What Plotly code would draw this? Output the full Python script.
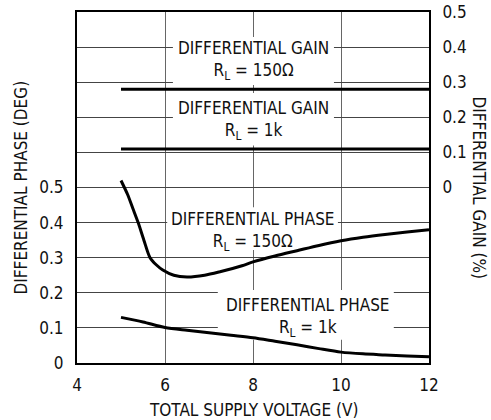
import plotly.graph_objects as go

# ---- data ----
supply_v_phase150 = [5.0, 5.15, 5.27, 5.39, 5.52, 5.66, 5.8, 5.95, 6.2, 6.5, 6.9, 7.25, 7.75, 8.0, 8.5, 9.0, 9.5, 10.0, 10.5, 11.0, 11.5, 12.0]
phase_150 = [0.52, 0.48, 0.44, 0.40, 0.35, 0.30, 0.28, 0.265, 0.25, 0.245, 0.25, 0.26, 0.277, 0.288, 0.305, 0.32, 0.335, 0.348, 0.358, 0.366, 0.373, 0.38]

supply_v_phase1k = [5.0, 5.5, 6.0, 6.5, 7.0, 7.5, 8.0, 8.5, 9.0, 9.5, 10.0, 10.5, 11.0, 11.5, 12.0]
phase_1k = [0.13, 0.117, 0.101, 0.093, 0.086, 0.079, 0.072, 0.062, 0.052, 0.041, 0.031, 0.026, 0.023, 0.02, 0.018]

supply_v_gain = [5.0, 12.0]
gain_150 = [0.28, 0.28]
gain_1k = [0.11, 0.11]

x_ticks = [4, 6, 8, 10, 12]
left_ticks = [0, 0.1, 0.2, 0.3, 0.4, 0.5, 0.6, 0.7, 0.8, 0.9, 1.0]
left_labels = ["0", "0.1", "0.2", "0.3", "0.4", "0.5", " ", " ", " ", " ", " "]
right_ticks = [0, 0.1, 0.2, 0.3, 0.4, 0.5]
right_labels = ["0", "0.1", "0.2", "0.3", "0.4", "0.5"]

FONT = "Liberation Sans Narrow, Arial Narrow, DejaVu Sans Condensed, sans-serif"
FS = 17

fig = go.Figure()
line_style = dict(color="black", width=3)
fig.add_trace(go.Scatter(x=supply_v_phase150, y=phase_150, mode="lines",
                         line=dict(color="black", width=3, shape="spline", smoothing=0.8)))
fig.add_trace(go.Scatter(x=supply_v_phase1k, y=phase_1k, mode="lines",
                         line=dict(color="black", width=3, shape="spline", smoothing=0.8)))
fig.add_trace(go.Scatter(x=supply_v_gain, y=gain_150, mode="lines", line=line_style, yaxis="y2"))
fig.add_trace(go.Scatter(x=supply_v_gain, y=gain_1k, mode="lines", line=line_style, yaxis="y2"))

# white label boxes breaking the grid (between grid and traces)
boxes = [
    (6.18, 9.84, 0.792, 0.929),
    (6.18, 9.84, 0.620, 0.769),
    (6.05, 9.93, 0.322, 0.444),
    (7.20, 11.2, 0.066, 0.208),
]
for x0, x1, y0, y1 in boxes:
    fig.add_shape(type="rect", xref="x", yref="y", x0=x0, x1=x1, y0=y0, y1=y1,
                  fillcolor="white", line=dict(width=0), layer="between")

labels = [
    (8.0, 0.862, "DIFFERENTIAL GAIN<br>R<sub>L</sub> = 150Ω"),
    (8.0, 0.690, "DIFFERENTIAL GAIN<br>R<sub>L</sub> = 1k"),
    (8.0, 0.375, "DIFFERENTIAL PHASE<br>R<sub>L</sub> = 150Ω"),
    (9.24, 0.13, "DIFFERENTIAL PHASE<br>R<sub>L</sub> = 1k"),
]
for x, y, t in labels:
    fig.add_annotation(x=x, y=y, xref="x", yref="y", text=t, showarrow=False,
                       font=dict(family=FONT, size=FS, color="#111"), align="center")

fig.add_annotation(x=0, y=0.5, xref="paper", yref="paper", xshift=-57, xanchor="center", yanchor="middle",
                   text="DIFFERENTIAL PHASE (DEG)", textangle=-90, showarrow=False,
                   font=dict(family=FONT, size=FS, color="#111"))
fig.add_annotation(x=1.0, y=0.5, xref="paper", yref="paper", xshift=50, xanchor="center", yanchor="middle",
                   text="DIFFERENTIAL GAIN (%)", textangle=90, showarrow=False,
                   font=dict(family=FONT, size=FS, color="#111"))
fig.add_annotation(x=0.5, y=0, xref="paper", yref="paper", yshift=-47, xanchor="center", yanchor="middle",
                   text="TOTAL SUPPLY VOLTAGE (V)", showarrow=False,
                   font=dict(family=FONT, size=FS, color="#111"))

fig.update_layout(
    width=491, height=420,
    margin=dict(l=77, r=62, t=12, b=57, autoexpand=False),
    paper_bgcolor="white", plot_bgcolor="white",
    showlegend=False,
    font=dict(family=FONT, size=FS, color="#111"),
    xaxis=dict(range=[4, 12], tickvals=x_ticks, ticktext=[str(v) for v in x_ticks],
               showgrid=True, gridcolor="#666", gridwidth=1, automargin=False,
               showline=True, linecolor="black", linewidth=2, mirror=True,
               ticks="outside", ticklen=6, tickcolor="rgba(0,0,0,0)", zeroline=False),
    yaxis=dict(range=[0, 1.0], tickvals=left_ticks, ticktext=left_labels,
               showgrid=True, gridcolor="#444", gridwidth=1, automargin=False,
               showline=True, linecolor="black", linewidth=2, mirror=True,
               ticks="outside", ticklen=8, tickcolor="rgba(0,0,0,0)", zeroline=False),
    yaxis2=dict(range=[-0.5, 0.5], tickvals=right_ticks, ticktext=right_labels,
                overlaying="y", side="right", showgrid=False, zeroline=False, automargin=False,
                showline=True, linecolor="black", linewidth=2,
                ticks="outside", ticklen=8, tickcolor="rgba(0,0,0,0)"),
)

fig.write_html("out.html", config={"displayModeBar": False},
               post_script="document.body.style.margin='0';document.body.style.overflow='hidden';")
